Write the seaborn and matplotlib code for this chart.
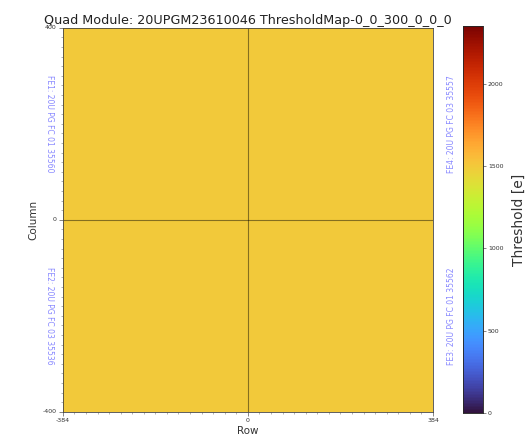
import numpy as np
import pandas as pd
import seaborn as sns
import matplotlib
matplotlib.use("Agg")
import matplotlib.pyplot as plt
from matplotlib.ticker import FixedLocator

# Mean threshold per front-end chip [e]
fe_names = ["FE1", "FE2", "FE3", "FE4"]
fe_chips = ["20U PG FC 01 35560", "20U PG FC 03 35536",
            "20U PG FC 01 35562", "20U PG FC 03 35557"]
fe_threshold = [1500, 1500, 1500, 1500]

# Module geometry and colour scale
row_ticks = [-384, 0, 384]
col_ticks = [400, 0, -400]
cbar_ticks = [0, 500, 1000, 1500, 2000]
vmin, vmax = 0, 2350

title = "Quad Module: 20UPGM23610046 ThresholdMap-0_0_300_0_0_0"

# Quadrant layout: top row FE1 | FE4, bottom row FE2 | FE3
grid = pd.DataFrame([[fe_threshold[0], fe_threshold[3]],
                     [fe_threshold[1], fe_threshold[2]]])

sns.set_style("white")
fig = plt.figure(figsize=(5.28, 4.41), dpi=100)
ax = fig.add_axes([0.119, 0.066, 0.701, 0.871])
cax = fig.add_axes([0.877, 0.063, 0.038, 0.878])

sns.heatmap(grid, ax=ax, cbar_ax=cax, cmap="turbo", vmin=vmin, vmax=vmax,
            square=False, cbar_kws={"ticks": cbar_ticks})

# quadrant separators
ax.axvline(1, color="black", alpha=0.45, lw=0.8)
ax.axhline(1, color="black", alpha=0.45, lw=0.8)

for sp in ax.spines.values():
    sp.set_visible(True)
    sp.set_color("#444444")
    sp.set_linewidth(0.6)

ax.set_xticks([0, 1, 2])
ax.set_xticklabels([str(t) for t in row_ticks], rotation=0)
ax.set_yticks([0, 1, 2])
ax.set_yticklabels([str(t) for t in col_ticks], rotation=0)
ax.xaxis.set_minor_locator(FixedLocator(np.linspace(0, 2, 33)))
ax.yaxis.set_minor_locator(FixedLocator(np.linspace(0, 2, 41)))
ax.tick_params(axis="both", which="major", labelsize=4.5, length=3, width=0.5,
               color="#555555", labelcolor="#333333", pad=1.5)
ax.tick_params(axis="both", which="minor", length=1.5, width=0.4, color="#777777")
ax.tick_params(bottom=True, left=True, which="both")

ax.set_xlabel("Row", fontsize=7.5, color="#333333", labelpad=2)
ax.set_ylabel("Column", fontsize=7.5, color="#333333", labelpad=3)
ax.set_title(title, fontsize=9.2, color="#222222", pad=3)

# front-end chip annotations
txt_kw = dict(transform=ax.transAxes, fontsize=5.5, color="#6060ff",
              alpha=0.75, ha="center", va="center")
ax.text(-0.036, 0.75, f"{fe_names[0]}: {fe_chips[0]}", rotation=270, **txt_kw)
ax.text(-0.036, 0.25, f"{fe_names[1]}: {fe_chips[1]}", rotation=270, **txt_kw)
ax.text(1.05, 0.25, f"{fe_names[2]}: {fe_chips[2]}", rotation=90, **txt_kw)
ax.text(1.05, 0.75, f"{fe_names[3]}: {fe_chips[3]}", rotation=90, **txt_kw)

cax.tick_params(labelsize=4.5, length=2, width=0.5, color="#555555",
                labelcolor="#333333", pad=1.5)
cax.set_ylabel("Threshold [e]", fontsize=10, color="#333333", labelpad=6)
for sp in cax.spines.values():
    sp.set_visible(True)
    sp.set_linewidth(0.5)

fig.savefig("out.png", dpi=100)
